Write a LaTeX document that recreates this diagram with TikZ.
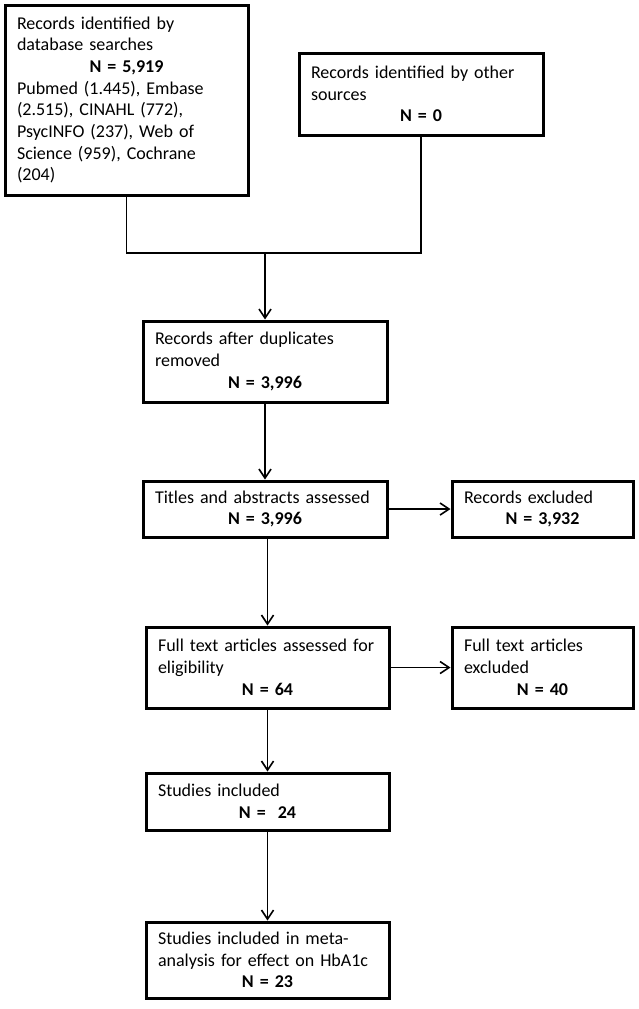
\documentclass[tikz,border=0pt]{standalone}
\usepackage{fontspec}
\setmainfont{Carlito}
\usetikzlibrary{arrows.meta}
\newcommand\nline[1]{\makebox[\linewidth]{\bfseries #1}}
\begin{document}
\begin{tikzpicture}[x=1pt,y=-1pt,
  box/.style={draw, line width=3pt, inner xsep=12pt, inner ysep=0pt, align=left,
    font=\fontsize{18}{21.7}\selectfont, anchor=center},
  conn/.style={line width=1.6pt},
  arr/.style={conn, -{Straight Barb[length=9pt,width=12pt,line width=1.6pt]}}]
\useasboundingbox (0,0) rectangle (638,1009);

\node[box, minimum width=243pt, minimum height=190pt, text width=219pt] (b1) at (126.5,100)
  {Records identified by\\database searches\\\nline{N = 5,919}\\Pubmed (1.445), Embase\\(2.515), CINAHL (772),\\PsycINFO (237), Web of\\Science (959), Cochrane\\(204)};
\node[box, minimum width=244pt, minimum height=82pt, text width=220pt] (b2) at (421,94)
  {Records identified by other\\sources\\\nline{N = 0}};
\node[box, minimum width=244pt, minimum height=81pt, text width=220pt] (b3) at (265,361.5)
  {Records after duplicates\\removed\\\nline{N = 3,996}};
\node[box, minimum width=244pt, minimum height=56pt, text width=220pt] (b4) at (265,509)
  {Titles and abstracts assessed\\\nline{N = 3,996}};
\node[box, minimum width=181pt, minimum height=56pt, text width=157pt] (b5) at (542.5,509)
  {Records excluded\\\nline{N = 3,932}};
\node[box, minimum width=243pt, minimum height=81pt, text width=219pt] (b6) at (267.5,667.5)
  {Full text articles assessed for\\eligibility\\\nline{N = 64}};
\node[box, minimum width=181pt, minimum height=81pt, text width=157pt] (b7) at (542.5,667.5)
  {Full text articles\\excluded\\\nline{N = 40}};
\node[box, minimum width=243pt, minimum height=57pt, text width=219pt] (b8) at (267.5,801.5)
  {Studies included\\\nline{N =\ \ 24}};
\node[box, minimum width=243pt, minimum height=76pt, text width=219pt] (b9) at (267.5,960)
  {Studies included in meta-\\analysis for effect on HbA1c\\\nline{N = 23}};

\coordinate (jm) at (265,253);
\draw[conn] (b1.south) -- (b1.south |- jm) -- (b2.south |- jm) -- (b2.south);
\draw[arr] (jm) -- (b3.north);
\draw[arr] (b3.south) -- (b4.north);
\draw[arr] (b4.east) -- (b5.west);
\draw[arr] (b4.south -| b6.north) -- (b6.north);
\draw[arr] (b6.east) -- (b7.west);
\draw[arr] (b6.south) -- (b8.north);
\draw[arr] (b8.south) -- (b9.north);
\end{tikzpicture}
\end{document}
